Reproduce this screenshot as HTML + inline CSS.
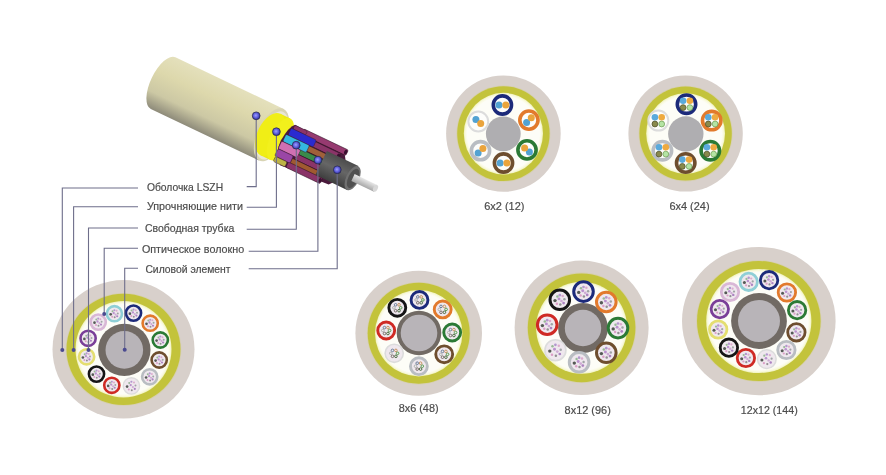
<!DOCTYPE html><html><head><meta charset="utf-8"><style>
html,body{margin:0;padding:0;background:#fff;}
body{width:886px;height:475px;overflow:hidden;position:relative;}
svg{position:absolute;left:0;top:0;filter:blur(0.35px);}
.t{font-family:"Liberation Sans",sans-serif;fill:#4c4c4c;stroke:#4c4c4c;stroke-width:0.2px;}
</style></head><body>
<svg width="886" height="475" viewBox="0 0 886 475">
<defs>
<linearGradient id="jg" x1="0" y1="0" x2="0" y2="1">
<stop offset="0" stop-color="#e4e0bc"/><stop offset="0.35" stop-color="#ddd8ac"/><stop offset="0.72" stop-color="#ccc8a4"/><stop offset="1" stop-color="#8e8b7a"/>
</linearGradient>
<linearGradient id="bg" x1="0" y1="0" x2="0" y2="1">
<stop offset="0" stop-color="#4c4c4c"/><stop offset="0.45" stop-color="#666"/><stop offset="1" stop-color="#3e3e3e"/>
</linearGradient>
<linearGradient id="rg" x1="0" y1="0" x2="0" y2="1">
<stop offset="0" stop-color="#e8e8e8"/><stop offset="1" stop-color="#a8a8a8"/>
</linearGradient>
<radialGradient id="dg" cx="0.45" cy="0.45" r="0.6">
<stop offset="0" stop-color="#a0a0ff"/><stop offset="0.55" stop-color="#5a5ad8"/><stop offset="1" stop-color="#2a2a80"/>
</radialGradient>
</defs>
<rect width="886" height="475" fill="#ffffff"/>

<ellipse cx="123.5" cy="349.3" rx="71" ry="69.2" fill="#d8d0cb"/>
<ellipse cx="123.5" cy="349.3" rx="57.8" ry="56.4" fill="#d6cfae"/>
<ellipse cx="123.5" cy="349.3" rx="57" ry="55.6" fill="#c3c33b"/>
<radialGradient id="ig123"><stop offset="0.927" stop-color="#fdfdf7"/><stop offset="0.964" stop-color="#fafae2"/><stop offset="1" stop-color="#f0f2bc"/></radialGradient>
<ellipse cx="123.5" cy="349.3" rx="48" ry="48.2" fill="url(#ig123)"/>
<circle cx="124.3" cy="349.9" r="26.2" fill="#716a64"/>
<circle cx="124.3" cy="349.9" r="18.8" fill="#b8b4b8"/>
<circle cx="133.5" cy="313.1" r="7.60" fill="#efe8ee" stroke="#1c2a7a" stroke-width="2.6"/>
<circle cx="129.9" cy="313.7" r="1.33" fill="#3a403a" opacity="0.85"/>
<circle cx="133.5" cy="309.6" r="1.07" fill="#a888c8" opacity="0.85"/>
<circle cx="135.7" cy="310.2" r="0.98" fill="#d8a0c8" opacity="0.85"/>
<circle cx="137.0" cy="312.7" r="0.98" fill="#909898" opacity="0.85"/>
<circle cx="136.4" cy="315.6" r="1.07" fill="#a070b8" opacity="0.85"/>
<circle cx="133.8" cy="316.7" r="0.98" fill="#808080" opacity="0.85"/>
<circle cx="131.3" cy="316.1" r="0.98" fill="#d890c0" opacity="0.85"/>
<circle cx="132.9" cy="312.4" r="1.16" fill="#b080c8" opacity="0.85"/>
<circle cx="134.8" cy="314.0" r="1.07" fill="#c8a0d0" opacity="0.85"/>
<circle cx="131.6" cy="310.5" r="0.98" fill="#88b088" opacity="0.85"/>
<circle cx="150.2" cy="323.2" r="7.60" fill="#efe8ee" stroke="#e27a2c" stroke-width="2.6"/>
<circle cx="146.5" cy="323.8" r="1.33" fill="#3a403a" opacity="0.85"/>
<circle cx="150.2" cy="319.7" r="1.07" fill="#a888c8" opacity="0.85"/>
<circle cx="152.4" cy="320.3" r="0.98" fill="#d8a0c8" opacity="0.85"/>
<circle cx="153.6" cy="322.8" r="0.98" fill="#909898" opacity="0.85"/>
<circle cx="153.0" cy="325.7" r="1.07" fill="#a070b8" opacity="0.85"/>
<circle cx="150.5" cy="326.8" r="0.98" fill="#808080" opacity="0.85"/>
<circle cx="148.0" cy="326.2" r="0.98" fill="#d890c0" opacity="0.85"/>
<circle cx="149.5" cy="322.5" r="1.16" fill="#b080c8" opacity="0.85"/>
<circle cx="151.4" cy="324.1" r="1.07" fill="#c8a0d0" opacity="0.85"/>
<circle cx="148.3" cy="320.6" r="0.98" fill="#88b088" opacity="0.85"/>
<circle cx="160.3" cy="340.0" r="7.60" fill="#efe8ee" stroke="#2b7a35" stroke-width="2.6"/>
<circle cx="156.6" cy="340.6" r="1.33" fill="#3a403a" opacity="0.85"/>
<circle cx="160.3" cy="336.5" r="1.07" fill="#a888c8" opacity="0.85"/>
<circle cx="162.5" cy="337.2" r="0.98" fill="#d8a0c8" opacity="0.85"/>
<circle cx="163.7" cy="339.7" r="0.98" fill="#909898" opacity="0.85"/>
<circle cx="163.1" cy="342.5" r="1.07" fill="#a070b8" opacity="0.85"/>
<circle cx="160.6" cy="343.7" r="0.98" fill="#808080" opacity="0.85"/>
<circle cx="158.1" cy="343.0" r="0.98" fill="#d890c0" opacity="0.85"/>
<circle cx="159.6" cy="339.4" r="1.16" fill="#b080c8" opacity="0.85"/>
<circle cx="161.5" cy="340.9" r="1.07" fill="#c8a0d0" opacity="0.85"/>
<circle cx="158.4" cy="337.5" r="0.98" fill="#88b088" opacity="0.85"/>
<circle cx="159.2" cy="360.0" r="7.60" fill="#efe8ee" stroke="#6e4e2e" stroke-width="2.6"/>
<circle cx="155.6" cy="360.6" r="1.33" fill="#3a403a" opacity="0.85"/>
<circle cx="159.2" cy="356.5" r="1.07" fill="#a888c8" opacity="0.85"/>
<circle cx="161.4" cy="357.2" r="0.98" fill="#d8a0c8" opacity="0.85"/>
<circle cx="162.7" cy="359.7" r="0.98" fill="#909898" opacity="0.85"/>
<circle cx="162.0" cy="362.5" r="1.07" fill="#a070b8" opacity="0.85"/>
<circle cx="159.5" cy="363.7" r="0.98" fill="#808080" opacity="0.85"/>
<circle cx="157.0" cy="363.0" r="0.98" fill="#d890c0" opacity="0.85"/>
<circle cx="158.6" cy="359.4" r="1.16" fill="#b080c8" opacity="0.85"/>
<circle cx="160.5" cy="360.9" r="1.07" fill="#c8a0d0" opacity="0.85"/>
<circle cx="157.3" cy="357.5" r="0.98" fill="#88b088" opacity="0.85"/>
<circle cx="149.7" cy="376.8" r="7.60" fill="#efe8ee" stroke="#b9bdc2" stroke-width="2.6"/>
<circle cx="146.1" cy="377.5" r="1.33" fill="#3a403a" opacity="0.85"/>
<circle cx="149.7" cy="373.4" r="1.07" fill="#a888c8" opacity="0.85"/>
<circle cx="151.9" cy="374.0" r="0.98" fill="#d8a0c8" opacity="0.85"/>
<circle cx="153.2" cy="376.5" r="0.98" fill="#909898" opacity="0.85"/>
<circle cx="152.6" cy="379.4" r="1.07" fill="#a070b8" opacity="0.85"/>
<circle cx="150.1" cy="380.5" r="0.98" fill="#808080" opacity="0.85"/>
<circle cx="147.5" cy="379.9" r="0.98" fill="#d890c0" opacity="0.85"/>
<circle cx="149.1" cy="376.2" r="1.16" fill="#b080c8" opacity="0.85"/>
<circle cx="151.0" cy="377.8" r="1.07" fill="#c8a0d0" opacity="0.85"/>
<circle cx="147.8" cy="374.3" r="0.98" fill="#88b088" opacity="0.85"/>
<circle cx="131.4" cy="385.9" r="8.19" fill="#efe8ee" stroke="#dcdcdc" stroke-width="1.4300000000000002"/>
<circle cx="127.1" cy="386.6" r="1.33" fill="#3a403a" opacity="0.85"/>
<circle cx="131.4" cy="381.8" r="1.07" fill="#a888c8" opacity="0.85"/>
<circle cx="134.0" cy="382.5" r="0.98" fill="#d8a0c8" opacity="0.85"/>
<circle cx="135.5" cy="385.5" r="0.98" fill="#909898" opacity="0.85"/>
<circle cx="134.8" cy="388.9" r="1.07" fill="#a070b8" opacity="0.85"/>
<circle cx="131.8" cy="390.2" r="0.98" fill="#808080" opacity="0.85"/>
<circle cx="128.8" cy="389.5" r="0.98" fill="#d890c0" opacity="0.85"/>
<circle cx="130.7" cy="385.1" r="1.16" fill="#b080c8" opacity="0.85"/>
<circle cx="132.9" cy="387.0" r="1.07" fill="#c8a0d0" opacity="0.85"/>
<circle cx="129.2" cy="382.9" r="0.98" fill="#88b088" opacity="0.85"/>
<circle cx="111.8" cy="385.3" r="7.60" fill="#efe8ee" stroke="#cf2a24" stroke-width="2.6"/>
<circle cx="108.2" cy="385.9" r="1.33" fill="#3a403a" opacity="0.85"/>
<circle cx="111.8" cy="381.8" r="1.07" fill="#a888c8" opacity="0.85"/>
<circle cx="114.0" cy="382.4" r="0.98" fill="#d8a0c8" opacity="0.85"/>
<circle cx="115.3" cy="384.9" r="0.98" fill="#909898" opacity="0.85"/>
<circle cx="114.7" cy="387.8" r="1.07" fill="#a070b8" opacity="0.85"/>
<circle cx="112.2" cy="388.9" r="0.98" fill="#808080" opacity="0.85"/>
<circle cx="109.6" cy="388.3" r="0.98" fill="#d890c0" opacity="0.85"/>
<circle cx="111.2" cy="384.6" r="1.16" fill="#b080c8" opacity="0.85"/>
<circle cx="113.1" cy="386.2" r="1.07" fill="#c8a0d0" opacity="0.85"/>
<circle cx="110.0" cy="382.7" r="0.98" fill="#88b088" opacity="0.85"/>
<circle cx="96.5" cy="374.1" r="7.60" fill="#efe8ee" stroke="#151515" stroke-width="2.6"/>
<circle cx="92.8" cy="374.7" r="1.33" fill="#3a403a" opacity="0.85"/>
<circle cx="96.5" cy="370.6" r="1.07" fill="#a888c8" opacity="0.85"/>
<circle cx="98.7" cy="371.3" r="0.98" fill="#d8a0c8" opacity="0.85"/>
<circle cx="99.9" cy="373.8" r="0.98" fill="#909898" opacity="0.85"/>
<circle cx="99.3" cy="376.6" r="1.07" fill="#a070b8" opacity="0.85"/>
<circle cx="96.8" cy="377.8" r="0.98" fill="#808080" opacity="0.85"/>
<circle cx="94.3" cy="377.1" r="0.98" fill="#d890c0" opacity="0.85"/>
<circle cx="95.8" cy="373.5" r="1.16" fill="#b080c8" opacity="0.85"/>
<circle cx="97.7" cy="375.1" r="1.07" fill="#c8a0d0" opacity="0.85"/>
<circle cx="94.6" cy="371.6" r="0.98" fill="#88b088" opacity="0.85"/>
<circle cx="86.6" cy="356.8" r="7.60" fill="#efe8ee" stroke="#e4de70" stroke-width="2.6"/>
<circle cx="82.9" cy="357.5" r="1.33" fill="#3a403a" opacity="0.85"/>
<circle cx="86.6" cy="353.4" r="1.07" fill="#a888c8" opacity="0.85"/>
<circle cx="88.8" cy="354.0" r="0.98" fill="#d8a0c8" opacity="0.85"/>
<circle cx="90.0" cy="356.5" r="0.98" fill="#909898" opacity="0.85"/>
<circle cx="89.4" cy="359.4" r="1.07" fill="#a070b8" opacity="0.85"/>
<circle cx="86.9" cy="360.5" r="0.98" fill="#808080" opacity="0.85"/>
<circle cx="84.4" cy="359.9" r="0.98" fill="#d890c0" opacity="0.85"/>
<circle cx="85.9" cy="356.2" r="1.16" fill="#b080c8" opacity="0.85"/>
<circle cx="87.8" cy="357.8" r="1.07" fill="#c8a0d0" opacity="0.85"/>
<circle cx="84.7" cy="354.3" r="0.98" fill="#88b088" opacity="0.85"/>
<circle cx="88.1" cy="338.3" r="7.60" fill="#efe8ee" stroke="#7a3e98" stroke-width="2.6"/>
<circle cx="84.4" cy="338.9" r="1.33" fill="#3a403a" opacity="0.85"/>
<circle cx="88.1" cy="334.9" r="1.07" fill="#a888c8" opacity="0.85"/>
<circle cx="90.3" cy="335.5" r="0.98" fill="#d8a0c8" opacity="0.85"/>
<circle cx="91.5" cy="338.0" r="0.98" fill="#909898" opacity="0.85"/>
<circle cx="90.9" cy="340.8" r="1.07" fill="#a070b8" opacity="0.85"/>
<circle cx="88.4" cy="342.0" r="0.98" fill="#808080" opacity="0.85"/>
<circle cx="85.8" cy="341.3" r="0.98" fill="#d890c0" opacity="0.85"/>
<circle cx="87.4" cy="337.7" r="1.16" fill="#b080c8" opacity="0.85"/>
<circle cx="89.3" cy="339.3" r="1.07" fill="#c8a0d0" opacity="0.85"/>
<circle cx="86.2" cy="335.8" r="0.98" fill="#88b088" opacity="0.85"/>
<circle cx="98.2" cy="322.1" r="7.60" fill="#efe8ee" stroke="#d9b7d6" stroke-width="2.6"/>
<circle cx="94.5" cy="322.7" r="1.33" fill="#3a403a" opacity="0.85"/>
<circle cx="98.2" cy="318.6" r="1.07" fill="#a888c8" opacity="0.85"/>
<circle cx="100.4" cy="319.3" r="0.98" fill="#d8a0c8" opacity="0.85"/>
<circle cx="101.6" cy="321.8" r="0.98" fill="#909898" opacity="0.85"/>
<circle cx="101.0" cy="324.6" r="1.07" fill="#a070b8" opacity="0.85"/>
<circle cx="98.5" cy="325.8" r="0.98" fill="#808080" opacity="0.85"/>
<circle cx="96.0" cy="325.1" r="0.98" fill="#d890c0" opacity="0.85"/>
<circle cx="97.5" cy="321.5" r="1.16" fill="#b080c8" opacity="0.85"/>
<circle cx="99.4" cy="323.1" r="1.07" fill="#c8a0d0" opacity="0.85"/>
<circle cx="96.3" cy="319.6" r="0.98" fill="#88b088" opacity="0.85"/>
<circle cx="114.4" cy="313.7" r="7.60" fill="#efe8ee" stroke="#8fcfd6" stroke-width="2.6"/>
<circle cx="110.7" cy="314.3" r="1.33" fill="#3a403a" opacity="0.85"/>
<circle cx="114.4" cy="310.2" r="1.07" fill="#a888c8" opacity="0.85"/>
<circle cx="116.6" cy="310.8" r="0.98" fill="#d8a0c8" opacity="0.85"/>
<circle cx="117.8" cy="313.4" r="0.98" fill="#909898" opacity="0.85"/>
<circle cx="117.2" cy="316.2" r="1.07" fill="#a070b8" opacity="0.85"/>
<circle cx="114.7" cy="317.3" r="0.98" fill="#808080" opacity="0.85"/>
<circle cx="112.2" cy="316.7" r="0.98" fill="#d890c0" opacity="0.85"/>
<circle cx="113.7" cy="313.1" r="1.16" fill="#b080c8" opacity="0.85"/>
<circle cx="115.6" cy="314.6" r="1.07" fill="#c8a0d0" opacity="0.85"/>
<circle cx="112.5" cy="311.2" r="0.98" fill="#88b088" opacity="0.85"/>
<ellipse cx="503.4" cy="133.6" rx="57.3" ry="58.2" fill="#d8d0cb"/>
<ellipse cx="503.4" cy="133.6" rx="47.0" ry="48.199999999999996" fill="#d6cfae"/>
<ellipse cx="503.4" cy="133.6" rx="46.2" ry="47.4" fill="#c3c33b"/>
<radialGradient id="ig503"><stop offset="0.912" stop-color="#fdfdf7"/><stop offset="0.956" stop-color="#fafae2"/><stop offset="1" stop-color="#f0f2bc"/></radialGradient>
<ellipse cx="503.4" cy="133.6" rx="39.6" ry="40.8" fill="url(#ig503)"/>
<circle cx="503.3" cy="133.8" r="17.4" fill="#afaeb1"/>
<circle cx="502.4" cy="105.0" r="9.10" fill="#fdfdfb" stroke="#1c2a7a" stroke-width="3.6"/>
<circle cx="499.0" cy="105.0" r="3.5" fill="#52a2d2"/>
<circle cx="505.8" cy="105.0" r="3.5" fill="#eaa43c"/>
<circle cx="528.9" cy="120.1" r="9.10" fill="#fdfdfb" stroke="#e27a2c" stroke-width="3.6"/>
<circle cx="526.6" cy="122.5" r="3.5" fill="#52a2d2"/>
<circle cx="531.3" cy="117.7" r="3.5" fill="#eaa43c"/>
<circle cx="527.0" cy="149.9" r="9.10" fill="#fdfdfb" stroke="#2b7a35" stroke-width="3.6"/>
<circle cx="529.4" cy="152.0" r="3.5" fill="#52a2d2"/>
<circle cx="524.6" cy="147.9" r="3.5" fill="#eaa43c"/>
<circle cx="503.5" cy="163.0" r="9.10" fill="#fdfdfb" stroke="#6e4e2e" stroke-width="3.6"/>
<circle cx="500.1" cy="163.0" r="3.5" fill="#52a2d2"/>
<circle cx="506.9" cy="163.0" r="3.5" fill="#eaa43c"/>
<circle cx="480.5" cy="150.7" r="9.10" fill="#fdfdfb" stroke="#b9bdc2" stroke-width="3.6"/>
<circle cx="478.1" cy="153.1" r="3.5" fill="#52a2d2"/>
<circle cx="482.9" cy="148.4" r="3.5" fill="#eaa43c"/>
<circle cx="478.3" cy="121.5" r="9.91" fill="#fdfdfb" stroke="#dcdcdc" stroke-width="1.9800000000000002"/>
<circle cx="475.9" cy="119.4" r="3.5" fill="#52a2d2"/>
<circle cx="480.7" cy="123.5" r="3.5" fill="#eaa43c"/>
<ellipse cx="685.6" cy="133.6" rx="57.2" ry="58" fill="#d8d0cb"/>
<ellipse cx="685.6" cy="133.6" rx="47.0" ry="47.8" fill="#d6cfae"/>
<ellipse cx="685.6" cy="133.6" rx="46.2" ry="47" fill="#c3c33b"/>
<radialGradient id="ig685"><stop offset="0.911" stop-color="#fdfdf7"/><stop offset="0.956" stop-color="#fafae2"/><stop offset="1" stop-color="#f0f2bc"/></radialGradient>
<ellipse cx="685.6" cy="133.6" rx="39.4" ry="40.3" fill="url(#ig685)"/>
<circle cx="685.8" cy="134" r="17.7" fill="#afaeb1"/>
<circle cx="686.5" cy="104.2" r="9.20" fill="#fdfdfb" stroke="#1c2a7a" stroke-width="3.6"/>
<circle cx="683.1" cy="100.8" r="3.3" fill="#5aaadc"/>
<circle cx="689.9" cy="100.8" r="3.3" fill="#eeaa40"/>
<circle cx="683.1" cy="107.6" r="2.9" fill="#8a8a4c" stroke="#55552e" stroke-width="0.8"/>
<circle cx="689.9" cy="107.6" r="2.9" fill="#b4e4a4" stroke="#6a9a50" stroke-width="0.7"/>
<circle cx="711.7" cy="120.6" r="9.20" fill="#fdfdfb" stroke="#e27a2c" stroke-width="3.6"/>
<circle cx="708.3" cy="117.2" r="3.3" fill="#5aaadc"/>
<circle cx="715.1" cy="117.2" r="3.3" fill="#eeaa40"/>
<circle cx="708.3" cy="124.0" r="2.9" fill="#8a8a4c" stroke="#55552e" stroke-width="0.8"/>
<circle cx="715.1" cy="124.0" r="2.9" fill="#b4e4a4" stroke="#6a9a50" stroke-width="0.7"/>
<circle cx="710.3" cy="150.7" r="9.20" fill="#fdfdfb" stroke="#2b7a35" stroke-width="3.6"/>
<circle cx="706.9" cy="147.3" r="3.3" fill="#5aaadc"/>
<circle cx="713.7" cy="147.3" r="3.3" fill="#eeaa40"/>
<circle cx="706.9" cy="154.1" r="2.9" fill="#8a8a4c" stroke="#55552e" stroke-width="0.8"/>
<circle cx="713.7" cy="154.1" r="2.9" fill="#b4e4a4" stroke="#6a9a50" stroke-width="0.7"/>
<circle cx="685.7" cy="163.0" r="9.20" fill="#fdfdfb" stroke="#6e4e2e" stroke-width="3.6"/>
<circle cx="682.3" cy="159.6" r="3.3" fill="#5aaadc"/>
<circle cx="689.1" cy="159.6" r="3.3" fill="#eeaa40"/>
<circle cx="682.3" cy="166.4" r="2.9" fill="#8a8a4c" stroke="#55552e" stroke-width="0.8"/>
<circle cx="689.1" cy="166.4" r="2.9" fill="#b4e4a4" stroke="#6a9a50" stroke-width="0.7"/>
<circle cx="662.4" cy="150.7" r="9.20" fill="#fdfdfb" stroke="#b9bdc2" stroke-width="3.6"/>
<circle cx="659.0" cy="147.3" r="3.3" fill="#5aaadc"/>
<circle cx="665.8" cy="147.3" r="3.3" fill="#eeaa40"/>
<circle cx="659.0" cy="154.1" r="2.9" fill="#8a8a4c" stroke="#55552e" stroke-width="0.8"/>
<circle cx="665.8" cy="154.1" r="2.9" fill="#b4e4a4" stroke="#6a9a50" stroke-width="0.7"/>
<circle cx="658.3" cy="120.6" r="10.01" fill="#fdfdfb" stroke="#dcdcdc" stroke-width="1.9800000000000002"/>
<circle cx="654.9" cy="117.2" r="3.3" fill="#5aaadc"/>
<circle cx="661.7" cy="117.2" r="3.3" fill="#eeaa40"/>
<circle cx="654.9" cy="124.0" r="2.9" fill="#8a8a4c" stroke="#55552e" stroke-width="0.8"/>
<circle cx="661.7" cy="124.0" r="2.9" fill="#b4e4a4" stroke="#6a9a50" stroke-width="0.7"/>
<ellipse cx="418.7" cy="333.2" rx="63.3" ry="62.5" fill="#d8d0cb"/>
<ellipse cx="418.7" cy="333.2" rx="51.8" ry="51.3" fill="#d6cfae"/>
<ellipse cx="418.7" cy="333.2" rx="51" ry="50.5" fill="#c3c33b"/>
<radialGradient id="ig418"><stop offset="0.920" stop-color="#fdfdf7"/><stop offset="0.960" stop-color="#fafae2"/><stop offset="1" stop-color="#f0f2bc"/></radialGradient>
<ellipse cx="418.7" cy="333.2" rx="43.7" ry="43.2" fill="url(#ig418)"/>
<circle cx="419" cy="333" r="22.3" fill="#716a64"/>
<circle cx="419" cy="333" r="18.3" fill="#b8b4b8"/>
<circle cx="419.5" cy="299.9" r="8.45" fill="#efe8ee" stroke="#1c2a7a" stroke-width="2.9"/>
<circle cx="417.8" cy="296.9" r="1.3" fill="#eeeeee" stroke="#6a7a9a" stroke-width="1"/>
<circle cx="421.2" cy="296.9" r="1.3" fill="#eeeeee" stroke="#c89060" stroke-width="1"/>
<circle cx="422.9" cy="299.9" r="1.3" fill="#eeeeee" stroke="#5a9a50" stroke-width="1"/>
<circle cx="421.2" cy="302.8" r="1.3" fill="#eeeeee" stroke="#4a6a40" stroke-width="1"/>
<circle cx="417.8" cy="302.8" r="1.3" fill="#eeeeee" stroke="#7a6a6a" stroke-width="1"/>
<circle cx="416.1" cy="299.9" r="1.3" fill="#eeeeee" stroke="#b0b0b0" stroke-width="1"/>
<circle cx="442.7" cy="309.4" r="8.45" fill="#efe8ee" stroke="#e27a2c" stroke-width="2.9"/>
<circle cx="441.0" cy="306.4" r="1.3" fill="#eeeeee" stroke="#6a7a9a" stroke-width="1"/>
<circle cx="444.4" cy="306.4" r="1.3" fill="#eeeeee" stroke="#c89060" stroke-width="1"/>
<circle cx="446.1" cy="309.4" r="1.3" fill="#eeeeee" stroke="#5a9a50" stroke-width="1"/>
<circle cx="444.4" cy="312.3" r="1.3" fill="#eeeeee" stroke="#4a6a40" stroke-width="1"/>
<circle cx="441.0" cy="312.3" r="1.3" fill="#eeeeee" stroke="#7a6a6a" stroke-width="1"/>
<circle cx="439.3" cy="309.4" r="1.3" fill="#eeeeee" stroke="#b0b0b0" stroke-width="1"/>
<circle cx="452.2" cy="332.5" r="8.45" fill="#efe8ee" stroke="#2b7a35" stroke-width="2.9"/>
<circle cx="450.5" cy="329.6" r="1.3" fill="#eeeeee" stroke="#6a7a9a" stroke-width="1"/>
<circle cx="453.9" cy="329.6" r="1.3" fill="#eeeeee" stroke="#c89060" stroke-width="1"/>
<circle cx="455.6" cy="332.5" r="1.3" fill="#eeeeee" stroke="#5a9a50" stroke-width="1"/>
<circle cx="453.9" cy="335.5" r="1.3" fill="#eeeeee" stroke="#4a6a40" stroke-width="1"/>
<circle cx="450.5" cy="335.5" r="1.3" fill="#eeeeee" stroke="#7a6a6a" stroke-width="1"/>
<circle cx="448.8" cy="332.5" r="1.3" fill="#eeeeee" stroke="#b0b0b0" stroke-width="1"/>
<circle cx="444.2" cy="354.3" r="8.45" fill="#efe8ee" stroke="#6e4e2e" stroke-width="2.9"/>
<circle cx="442.5" cy="351.4" r="1.3" fill="#eeeeee" stroke="#6a7a9a" stroke-width="1"/>
<circle cx="445.9" cy="351.4" r="1.3" fill="#eeeeee" stroke="#c89060" stroke-width="1"/>
<circle cx="447.6" cy="354.3" r="1.3" fill="#eeeeee" stroke="#5a9a50" stroke-width="1"/>
<circle cx="445.9" cy="357.2" r="1.3" fill="#eeeeee" stroke="#4a6a40" stroke-width="1"/>
<circle cx="442.5" cy="357.2" r="1.3" fill="#eeeeee" stroke="#7a6a6a" stroke-width="1"/>
<circle cx="440.8" cy="354.3" r="1.3" fill="#eeeeee" stroke="#b0b0b0" stroke-width="1"/>
<circle cx="418.9" cy="366.2" r="8.45" fill="#efe8ee" stroke="#b9bdc2" stroke-width="2.9"/>
<circle cx="417.2" cy="363.2" r="1.3" fill="#eeeeee" stroke="#6a7a9a" stroke-width="1"/>
<circle cx="420.6" cy="363.2" r="1.3" fill="#eeeeee" stroke="#c89060" stroke-width="1"/>
<circle cx="422.3" cy="366.2" r="1.3" fill="#eeeeee" stroke="#5a9a50" stroke-width="1"/>
<circle cx="420.6" cy="369.1" r="1.3" fill="#eeeeee" stroke="#4a6a40" stroke-width="1"/>
<circle cx="417.2" cy="369.1" r="1.3" fill="#eeeeee" stroke="#7a6a6a" stroke-width="1"/>
<circle cx="415.5" cy="366.2" r="1.3" fill="#eeeeee" stroke="#b0b0b0" stroke-width="1"/>
<circle cx="394.2" cy="353.3" r="9.10" fill="#efe8ee" stroke="#dcdcdc" stroke-width="1.595"/>
<circle cx="392.5" cy="350.4" r="1.3" fill="#eeeeee" stroke="#6a7a9a" stroke-width="1"/>
<circle cx="395.9" cy="350.4" r="1.3" fill="#eeeeee" stroke="#c89060" stroke-width="1"/>
<circle cx="397.6" cy="353.3" r="1.3" fill="#eeeeee" stroke="#5a9a50" stroke-width="1"/>
<circle cx="395.9" cy="356.3" r="1.3" fill="#eeeeee" stroke="#4a6a40" stroke-width="1"/>
<circle cx="392.5" cy="356.3" r="1.3" fill="#eeeeee" stroke="#7a6a6a" stroke-width="1"/>
<circle cx="390.8" cy="353.3" r="1.3" fill="#eeeeee" stroke="#b0b0b0" stroke-width="1"/>
<circle cx="386.2" cy="330.5" r="8.45" fill="#efe8ee" stroke="#cf2a24" stroke-width="2.9"/>
<circle cx="384.5" cy="327.6" r="1.3" fill="#eeeeee" stroke="#6a7a9a" stroke-width="1"/>
<circle cx="387.9" cy="327.6" r="1.3" fill="#eeeeee" stroke="#c89060" stroke-width="1"/>
<circle cx="389.6" cy="330.5" r="1.3" fill="#eeeeee" stroke="#5a9a50" stroke-width="1"/>
<circle cx="387.9" cy="333.5" r="1.3" fill="#eeeeee" stroke="#4a6a40" stroke-width="1"/>
<circle cx="384.5" cy="333.5" r="1.3" fill="#eeeeee" stroke="#7a6a6a" stroke-width="1"/>
<circle cx="382.8" cy="330.5" r="1.3" fill="#eeeeee" stroke="#b0b0b0" stroke-width="1"/>
<circle cx="397.3" cy="307.8" r="8.45" fill="#efe8ee" stroke="#151515" stroke-width="2.9"/>
<circle cx="395.6" cy="304.8" r="1.3" fill="#eeeeee" stroke="#6a7a9a" stroke-width="1"/>
<circle cx="399.0" cy="304.8" r="1.3" fill="#eeeeee" stroke="#c89060" stroke-width="1"/>
<circle cx="400.7" cy="307.8" r="1.3" fill="#eeeeee" stroke="#5a9a50" stroke-width="1"/>
<circle cx="399.0" cy="310.7" r="1.3" fill="#eeeeee" stroke="#4a6a40" stroke-width="1"/>
<circle cx="395.6" cy="310.7" r="1.3" fill="#eeeeee" stroke="#7a6a6a" stroke-width="1"/>
<circle cx="393.9" cy="307.8" r="1.3" fill="#eeeeee" stroke="#b0b0b0" stroke-width="1"/>
<ellipse cx="581.6" cy="327.8" rx="67" ry="67.2" fill="#d8d0cb"/>
<ellipse cx="581.6" cy="327.8" rx="54.599999999999994" ry="55.199999999999996" fill="#d6cfae"/>
<ellipse cx="581.6" cy="327.8" rx="53.8" ry="54.4" fill="#c3c33b"/>
<radialGradient id="ig581"><stop offset="0.923" stop-color="#fdfdf7"/><stop offset="0.962" stop-color="#fafae2"/><stop offset="1" stop-color="#f0f2bc"/></radialGradient>
<ellipse cx="581.6" cy="327.8" rx="45.5" ry="46" fill="url(#ig581)"/>
<circle cx="583" cy="328" r="24.9" fill="#716a64"/>
<circle cx="583" cy="328" r="18.2" fill="#b8b4b8"/>
<circle cx="583.5" cy="291.6" r="9.80" fill="#efe8ee" stroke="#1c2a7a" stroke-width="3.0"/>
<circle cx="578.7" cy="292.4" r="1.70" fill="#3a403a" opacity="0.85"/>
<circle cx="583.5" cy="287.0" r="1.36" fill="#a888c8" opacity="0.85"/>
<circle cx="586.4" cy="287.8" r="1.24" fill="#d8a0c8" opacity="0.85"/>
<circle cx="588.1" cy="291.2" r="1.24" fill="#909898" opacity="0.85"/>
<circle cx="587.2" cy="294.9" r="1.36" fill="#a070b8" opacity="0.85"/>
<circle cx="583.9" cy="296.4" r="1.24" fill="#808080" opacity="0.85"/>
<circle cx="580.6" cy="295.6" r="1.24" fill="#d890c0" opacity="0.85"/>
<circle cx="582.7" cy="290.7" r="1.47" fill="#b080c8" opacity="0.85"/>
<circle cx="585.2" cy="292.8" r="1.36" fill="#c8a0d0" opacity="0.85"/>
<circle cx="581.0" cy="288.3" r="1.24" fill="#88b088" opacity="0.85"/>
<circle cx="606.3" cy="302.0" r="9.80" fill="#efe8ee" stroke="#e27a2c" stroke-width="3.0"/>
<circle cx="601.4" cy="302.8" r="1.70" fill="#3a403a" opacity="0.85"/>
<circle cx="606.3" cy="297.4" r="1.36" fill="#a888c8" opacity="0.85"/>
<circle cx="609.2" cy="298.2" r="1.24" fill="#d8a0c8" opacity="0.85"/>
<circle cx="610.8" cy="301.6" r="1.24" fill="#909898" opacity="0.85"/>
<circle cx="610.0" cy="305.3" r="1.36" fill="#a070b8" opacity="0.85"/>
<circle cx="606.7" cy="306.8" r="1.24" fill="#808080" opacity="0.85"/>
<circle cx="603.4" cy="306.0" r="1.24" fill="#d890c0" opacity="0.85"/>
<circle cx="605.4" cy="301.1" r="1.47" fill="#b080c8" opacity="0.85"/>
<circle cx="607.9" cy="303.2" r="1.36" fill="#c8a0d0" opacity="0.85"/>
<circle cx="603.8" cy="298.6" r="1.24" fill="#88b088" opacity="0.85"/>
<circle cx="618.0" cy="328.1" r="9.80" fill="#efe8ee" stroke="#2b7a35" stroke-width="3.0"/>
<circle cx="613.2" cy="328.9" r="1.70" fill="#3a403a" opacity="0.85"/>
<circle cx="618.0" cy="323.5" r="1.36" fill="#a888c8" opacity="0.85"/>
<circle cx="620.9" cy="324.3" r="1.24" fill="#d8a0c8" opacity="0.85"/>
<circle cx="622.5" cy="327.6" r="1.24" fill="#909898" opacity="0.85"/>
<circle cx="621.7" cy="331.4" r="1.36" fill="#a070b8" opacity="0.85"/>
<circle cx="618.4" cy="332.9" r="1.24" fill="#808080" opacity="0.85"/>
<circle cx="615.1" cy="332.0" r="1.24" fill="#d890c0" opacity="0.85"/>
<circle cx="617.1" cy="327.2" r="1.47" fill="#b080c8" opacity="0.85"/>
<circle cx="619.6" cy="329.3" r="1.36" fill="#c8a0d0" opacity="0.85"/>
<circle cx="615.5" cy="324.7" r="1.24" fill="#88b088" opacity="0.85"/>
<circle cx="606.3" cy="352.8" r="9.80" fill="#efe8ee" stroke="#6e4e2e" stroke-width="3.0"/>
<circle cx="601.4" cy="353.6" r="1.70" fill="#3a403a" opacity="0.85"/>
<circle cx="606.3" cy="348.2" r="1.36" fill="#a888c8" opacity="0.85"/>
<circle cx="609.2" cy="349.1" r="1.24" fill="#d8a0c8" opacity="0.85"/>
<circle cx="610.8" cy="352.4" r="1.24" fill="#909898" opacity="0.85"/>
<circle cx="610.0" cy="356.1" r="1.36" fill="#a070b8" opacity="0.85"/>
<circle cx="606.7" cy="357.6" r="1.24" fill="#808080" opacity="0.85"/>
<circle cx="603.4" cy="356.8" r="1.24" fill="#d890c0" opacity="0.85"/>
<circle cx="605.4" cy="352.0" r="1.47" fill="#b080c8" opacity="0.85"/>
<circle cx="607.9" cy="354.1" r="1.36" fill="#c8a0d0" opacity="0.85"/>
<circle cx="603.8" cy="349.5" r="1.24" fill="#88b088" opacity="0.85"/>
<circle cx="579.1" cy="362.3" r="9.80" fill="#efe8ee" stroke="#b9bdc2" stroke-width="3.0"/>
<circle cx="574.3" cy="363.1" r="1.70" fill="#3a403a" opacity="0.85"/>
<circle cx="579.1" cy="357.7" r="1.36" fill="#a888c8" opacity="0.85"/>
<circle cx="582.0" cy="358.6" r="1.24" fill="#d8a0c8" opacity="0.85"/>
<circle cx="583.6" cy="361.9" r="1.24" fill="#909898" opacity="0.85"/>
<circle cx="582.8" cy="365.6" r="1.36" fill="#a070b8" opacity="0.85"/>
<circle cx="579.5" cy="367.1" r="1.24" fill="#808080" opacity="0.85"/>
<circle cx="576.2" cy="366.3" r="1.24" fill="#d890c0" opacity="0.85"/>
<circle cx="578.2" cy="361.5" r="1.47" fill="#b080c8" opacity="0.85"/>
<circle cx="580.7" cy="363.6" r="1.36" fill="#c8a0d0" opacity="0.85"/>
<circle cx="576.6" cy="359.0" r="1.24" fill="#88b088" opacity="0.85"/>
<circle cx="555.4" cy="350.2" r="10.48" fill="#efe8ee" stroke="#dcdcdc" stroke-width="1.6500000000000001"/>
<circle cx="549.8" cy="351.1" r="1.70" fill="#3a403a" opacity="0.85"/>
<circle cx="555.4" cy="344.8" r="1.36" fill="#a888c8" opacity="0.85"/>
<circle cx="558.8" cy="345.8" r="1.24" fill="#d8a0c8" opacity="0.85"/>
<circle cx="560.7" cy="349.7" r="1.24" fill="#909898" opacity="0.85"/>
<circle cx="559.8" cy="354.0" r="1.36" fill="#a070b8" opacity="0.85"/>
<circle cx="555.9" cy="355.8" r="1.24" fill="#808080" opacity="0.85"/>
<circle cx="552.0" cy="354.8" r="1.24" fill="#d890c0" opacity="0.85"/>
<circle cx="554.5" cy="349.2" r="1.47" fill="#b080c8" opacity="0.85"/>
<circle cx="557.3" cy="351.6" r="1.36" fill="#c8a0d0" opacity="0.85"/>
<circle cx="552.5" cy="346.3" r="1.24" fill="#88b088" opacity="0.85"/>
<circle cx="547.2" cy="324.7" r="9.80" fill="#efe8ee" stroke="#cf2a24" stroke-width="3.0"/>
<circle cx="542.4" cy="325.6" r="1.70" fill="#3a403a" opacity="0.85"/>
<circle cx="547.2" cy="320.2" r="1.36" fill="#a888c8" opacity="0.85"/>
<circle cx="550.1" cy="321.0" r="1.24" fill="#d8a0c8" opacity="0.85"/>
<circle cx="551.8" cy="324.3" r="1.24" fill="#909898" opacity="0.85"/>
<circle cx="551.0" cy="328.1" r="1.36" fill="#a070b8" opacity="0.85"/>
<circle cx="547.7" cy="329.5" r="1.24" fill="#808080" opacity="0.85"/>
<circle cx="544.3" cy="328.7" r="1.24" fill="#d890c0" opacity="0.85"/>
<circle cx="546.4" cy="323.9" r="1.47" fill="#b080c8" opacity="0.85"/>
<circle cx="548.9" cy="326.0" r="1.36" fill="#c8a0d0" opacity="0.85"/>
<circle cx="544.8" cy="321.4" r="1.24" fill="#88b088" opacity="0.85"/>
<circle cx="559.8" cy="299.8" r="9.80" fill="#efe8ee" stroke="#151515" stroke-width="3.0"/>
<circle cx="555.0" cy="300.6" r="1.70" fill="#3a403a" opacity="0.85"/>
<circle cx="559.8" cy="295.2" r="1.36" fill="#a888c8" opacity="0.85"/>
<circle cx="562.7" cy="296.0" r="1.24" fill="#d8a0c8" opacity="0.85"/>
<circle cx="564.4" cy="299.3" r="1.24" fill="#909898" opacity="0.85"/>
<circle cx="563.6" cy="303.1" r="1.36" fill="#a070b8" opacity="0.85"/>
<circle cx="560.3" cy="304.6" r="1.24" fill="#808080" opacity="0.85"/>
<circle cx="556.9" cy="303.7" r="1.24" fill="#d890c0" opacity="0.85"/>
<circle cx="559.0" cy="298.9" r="1.47" fill="#b080c8" opacity="0.85"/>
<circle cx="561.5" cy="301.0" r="1.36" fill="#c8a0d0" opacity="0.85"/>
<circle cx="557.4" cy="296.4" r="1.24" fill="#88b088" opacity="0.85"/>
<ellipse cx="758.8" cy="321.1" rx="76.8" ry="74.2" fill="#d8d0cb"/>
<ellipse cx="758.8" cy="321.1" rx="62.599999999999994" ry="60.8" fill="#d6cfae"/>
<ellipse cx="758.8" cy="321.1" rx="61.8" ry="60" fill="#c3c33b"/>
<radialGradient id="ig758"><stop offset="0.933" stop-color="#fdfdf7"/><stop offset="0.967" stop-color="#fafae2"/><stop offset="1" stop-color="#f0f2bc"/></radialGradient>
<ellipse cx="758.8" cy="321.1" rx="52.6" ry="52" fill="url(#ig758)"/>
<circle cx="759" cy="321" r="27.9" fill="#716a64"/>
<circle cx="759" cy="321" r="21" fill="#b8b4b8"/>
<circle cx="769.1" cy="280.2" r="8.70" fill="#efe8ee" stroke="#1c2a7a" stroke-width="2.8"/>
<circle cx="764.9" cy="280.9" r="1.52" fill="#3a403a" opacity="0.85"/>
<circle cx="769.1" cy="276.2" r="1.21" fill="#a888c8" opacity="0.85"/>
<circle cx="771.7" cy="276.9" r="1.11" fill="#d8a0c8" opacity="0.85"/>
<circle cx="773.1" cy="279.8" r="1.11" fill="#909898" opacity="0.85"/>
<circle cx="772.4" cy="283.1" r="1.21" fill="#a070b8" opacity="0.85"/>
<circle cx="769.5" cy="284.4" r="1.11" fill="#808080" opacity="0.85"/>
<circle cx="766.6" cy="283.7" r="1.11" fill="#d890c0" opacity="0.85"/>
<circle cx="768.4" cy="279.5" r="1.31" fill="#b080c8" opacity="0.85"/>
<circle cx="770.6" cy="281.3" r="1.21" fill="#c8a0d0" opacity="0.85"/>
<circle cx="766.9" cy="277.3" r="1.11" fill="#88b088" opacity="0.85"/>
<circle cx="786.9" cy="292.5" r="8.70" fill="#efe8ee" stroke="#e27a2c" stroke-width="2.8"/>
<circle cx="782.6" cy="293.2" r="1.52" fill="#3a403a" opacity="0.85"/>
<circle cx="786.9" cy="288.5" r="1.21" fill="#a888c8" opacity="0.85"/>
<circle cx="789.4" cy="289.2" r="1.11" fill="#d8a0c8" opacity="0.85"/>
<circle cx="790.9" cy="292.1" r="1.11" fill="#909898" opacity="0.85"/>
<circle cx="790.1" cy="295.4" r="1.21" fill="#a070b8" opacity="0.85"/>
<circle cx="787.2" cy="296.7" r="1.11" fill="#808080" opacity="0.85"/>
<circle cx="784.3" cy="296.0" r="1.11" fill="#d890c0" opacity="0.85"/>
<circle cx="786.1" cy="291.7" r="1.31" fill="#b080c8" opacity="0.85"/>
<circle cx="788.3" cy="293.6" r="1.21" fill="#c8a0d0" opacity="0.85"/>
<circle cx="784.7" cy="289.5" r="1.11" fill="#88b088" opacity="0.85"/>
<circle cx="797.1" cy="310.2" r="8.70" fill="#efe8ee" stroke="#2b7a35" stroke-width="2.8"/>
<circle cx="792.9" cy="310.9" r="1.52" fill="#3a403a" opacity="0.85"/>
<circle cx="797.1" cy="306.2" r="1.21" fill="#a888c8" opacity="0.85"/>
<circle cx="799.6" cy="306.9" r="1.11" fill="#d8a0c8" opacity="0.85"/>
<circle cx="801.1" cy="309.8" r="1.11" fill="#909898" opacity="0.85"/>
<circle cx="800.4" cy="313.1" r="1.21" fill="#a070b8" opacity="0.85"/>
<circle cx="797.5" cy="314.4" r="1.11" fill="#808080" opacity="0.85"/>
<circle cx="794.5" cy="313.7" r="1.11" fill="#d890c0" opacity="0.85"/>
<circle cx="796.4" cy="309.5" r="1.31" fill="#b080c8" opacity="0.85"/>
<circle cx="798.5" cy="311.3" r="1.21" fill="#c8a0d0" opacity="0.85"/>
<circle cx="794.9" cy="307.3" r="1.11" fill="#88b088" opacity="0.85"/>
<circle cx="796.4" cy="332.3" r="8.70" fill="#efe8ee" stroke="#6e4e2e" stroke-width="2.8"/>
<circle cx="792.2" cy="333.0" r="1.52" fill="#3a403a" opacity="0.85"/>
<circle cx="796.4" cy="328.2" r="1.21" fill="#a888c8" opacity="0.85"/>
<circle cx="799.0" cy="329.0" r="1.11" fill="#d8a0c8" opacity="0.85"/>
<circle cx="800.4" cy="331.9" r="1.11" fill="#909898" opacity="0.85"/>
<circle cx="799.7" cy="335.2" r="1.21" fill="#a070b8" opacity="0.85"/>
<circle cx="796.8" cy="336.5" r="1.11" fill="#808080" opacity="0.85"/>
<circle cx="793.9" cy="335.8" r="1.11" fill="#d890c0" opacity="0.85"/>
<circle cx="795.7" cy="331.5" r="1.31" fill="#b080c8" opacity="0.85"/>
<circle cx="797.9" cy="333.4" r="1.21" fill="#c8a0d0" opacity="0.85"/>
<circle cx="794.2" cy="329.3" r="1.11" fill="#88b088" opacity="0.85"/>
<circle cx="786.4" cy="350.0" r="8.70" fill="#efe8ee" stroke="#b9bdc2" stroke-width="2.8"/>
<circle cx="782.2" cy="350.7" r="1.52" fill="#3a403a" opacity="0.85"/>
<circle cx="786.4" cy="346.0" r="1.21" fill="#a888c8" opacity="0.85"/>
<circle cx="789.0" cy="346.7" r="1.11" fill="#d8a0c8" opacity="0.85"/>
<circle cx="790.4" cy="349.6" r="1.11" fill="#909898" opacity="0.85"/>
<circle cx="789.7" cy="352.9" r="1.21" fill="#a070b8" opacity="0.85"/>
<circle cx="786.8" cy="354.2" r="1.11" fill="#808080" opacity="0.85"/>
<circle cx="783.8" cy="353.5" r="1.11" fill="#d890c0" opacity="0.85"/>
<circle cx="785.7" cy="349.3" r="1.31" fill="#b080c8" opacity="0.85"/>
<circle cx="787.9" cy="351.1" r="1.21" fill="#c8a0d0" opacity="0.85"/>
<circle cx="784.2" cy="347.1" r="1.11" fill="#88b088" opacity="0.85"/>
<circle cx="766.8" cy="359.1" r="9.33" fill="#efe8ee" stroke="#dcdcdc" stroke-width="1.54"/>
<circle cx="761.9" cy="359.9" r="1.52" fill="#3a403a" opacity="0.85"/>
<circle cx="766.8" cy="354.4" r="1.21" fill="#a888c8" opacity="0.85"/>
<circle cx="769.8" cy="355.2" r="1.11" fill="#d8a0c8" opacity="0.85"/>
<circle cx="771.6" cy="358.7" r="1.11" fill="#909898" opacity="0.85"/>
<circle cx="770.7" cy="362.5" r="1.21" fill="#a070b8" opacity="0.85"/>
<circle cx="767.3" cy="364.1" r="1.11" fill="#808080" opacity="0.85"/>
<circle cx="763.9" cy="363.2" r="1.11" fill="#d890c0" opacity="0.85"/>
<circle cx="766.0" cy="358.2" r="1.31" fill="#b080c8" opacity="0.85"/>
<circle cx="768.6" cy="360.4" r="1.21" fill="#c8a0d0" opacity="0.85"/>
<circle cx="764.3" cy="355.7" r="1.11" fill="#88b088" opacity="0.85"/>
<circle cx="745.9" cy="358.0" r="8.70" fill="#efe8ee" stroke="#cf2a24" stroke-width="2.8"/>
<circle cx="741.7" cy="358.7" r="1.52" fill="#3a403a" opacity="0.85"/>
<circle cx="745.9" cy="353.9" r="1.21" fill="#a888c8" opacity="0.85"/>
<circle cx="748.5" cy="354.7" r="1.11" fill="#d8a0c8" opacity="0.85"/>
<circle cx="749.9" cy="357.6" r="1.11" fill="#909898" opacity="0.85"/>
<circle cx="749.2" cy="360.9" r="1.21" fill="#a070b8" opacity="0.85"/>
<circle cx="746.3" cy="362.2" r="1.11" fill="#808080" opacity="0.85"/>
<circle cx="743.4" cy="361.5" r="1.11" fill="#d890c0" opacity="0.85"/>
<circle cx="745.2" cy="357.2" r="1.31" fill="#b080c8" opacity="0.85"/>
<circle cx="747.4" cy="359.0" r="1.21" fill="#c8a0d0" opacity="0.85"/>
<circle cx="743.7" cy="355.0" r="1.11" fill="#88b088" opacity="0.85"/>
<circle cx="728.9" cy="347.7" r="8.70" fill="#efe8ee" stroke="#151515" stroke-width="2.8"/>
<circle cx="724.6" cy="348.4" r="1.52" fill="#3a403a" opacity="0.85"/>
<circle cx="728.9" cy="343.7" r="1.21" fill="#a888c8" opacity="0.85"/>
<circle cx="731.4" cy="344.4" r="1.11" fill="#d8a0c8" opacity="0.85"/>
<circle cx="732.9" cy="347.4" r="1.11" fill="#909898" opacity="0.85"/>
<circle cx="732.2" cy="350.6" r="1.21" fill="#a070b8" opacity="0.85"/>
<circle cx="729.2" cy="352.0" r="1.11" fill="#808080" opacity="0.85"/>
<circle cx="726.3" cy="351.2" r="1.11" fill="#d890c0" opacity="0.85"/>
<circle cx="728.1" cy="347.0" r="1.31" fill="#b080c8" opacity="0.85"/>
<circle cx="730.3" cy="348.8" r="1.21" fill="#c8a0d0" opacity="0.85"/>
<circle cx="726.7" cy="344.8" r="1.11" fill="#88b088" opacity="0.85"/>
<circle cx="718.2" cy="329.5" r="8.70" fill="#efe8ee" stroke="#e4de70" stroke-width="2.8"/>
<circle cx="714.0" cy="330.3" r="1.52" fill="#3a403a" opacity="0.85"/>
<circle cx="718.2" cy="325.5" r="1.21" fill="#a888c8" opacity="0.85"/>
<circle cx="720.7" cy="326.2" r="1.11" fill="#d8a0c8" opacity="0.85"/>
<circle cx="722.2" cy="329.2" r="1.11" fill="#909898" opacity="0.85"/>
<circle cx="721.5" cy="332.4" r="1.21" fill="#a070b8" opacity="0.85"/>
<circle cx="718.6" cy="333.8" r="1.11" fill="#808080" opacity="0.85"/>
<circle cx="715.6" cy="333.0" r="1.11" fill="#d890c0" opacity="0.85"/>
<circle cx="717.5" cy="328.8" r="1.31" fill="#b080c8" opacity="0.85"/>
<circle cx="719.6" cy="330.6" r="1.21" fill="#c8a0d0" opacity="0.85"/>
<circle cx="716.0" cy="326.6" r="1.11" fill="#88b088" opacity="0.85"/>
<circle cx="719.8" cy="309.1" r="8.70" fill="#efe8ee" stroke="#7a3e98" stroke-width="2.8"/>
<circle cx="715.5" cy="309.8" r="1.52" fill="#3a403a" opacity="0.85"/>
<circle cx="719.8" cy="305.0" r="1.21" fill="#a888c8" opacity="0.85"/>
<circle cx="722.3" cy="305.8" r="1.11" fill="#d8a0c8" opacity="0.85"/>
<circle cx="723.8" cy="308.7" r="1.11" fill="#909898" opacity="0.85"/>
<circle cx="723.1" cy="312.0" r="1.21" fill="#a070b8" opacity="0.85"/>
<circle cx="720.1" cy="313.3" r="1.11" fill="#808080" opacity="0.85"/>
<circle cx="717.2" cy="312.6" r="1.11" fill="#d890c0" opacity="0.85"/>
<circle cx="719.0" cy="308.3" r="1.31" fill="#b080c8" opacity="0.85"/>
<circle cx="721.2" cy="310.2" r="1.21" fill="#c8a0d0" opacity="0.85"/>
<circle cx="717.6" cy="306.1" r="1.11" fill="#88b088" opacity="0.85"/>
<circle cx="730.0" cy="292.0" r="8.70" fill="#efe8ee" stroke="#d9b7d6" stroke-width="2.8"/>
<circle cx="725.8" cy="292.7" r="1.52" fill="#3a403a" opacity="0.85"/>
<circle cx="730.0" cy="288.0" r="1.21" fill="#a888c8" opacity="0.85"/>
<circle cx="732.6" cy="288.7" r="1.11" fill="#d8a0c8" opacity="0.85"/>
<circle cx="734.0" cy="291.6" r="1.11" fill="#909898" opacity="0.85"/>
<circle cx="733.3" cy="294.9" r="1.21" fill="#a070b8" opacity="0.85"/>
<circle cx="730.4" cy="296.2" r="1.11" fill="#808080" opacity="0.85"/>
<circle cx="727.5" cy="295.5" r="1.11" fill="#d890c0" opacity="0.85"/>
<circle cx="729.3" cy="291.3" r="1.31" fill="#b080c8" opacity="0.85"/>
<circle cx="731.5" cy="293.1" r="1.21" fill="#c8a0d0" opacity="0.85"/>
<circle cx="727.8" cy="289.1" r="1.11" fill="#88b088" opacity="0.85"/>
<circle cx="748.7" cy="281.8" r="8.70" fill="#efe8ee" stroke="#8fcfd6" stroke-width="2.8"/>
<circle cx="744.4" cy="282.5" r="1.52" fill="#3a403a" opacity="0.85"/>
<circle cx="748.7" cy="277.8" r="1.21" fill="#a888c8" opacity="0.85"/>
<circle cx="751.2" cy="278.5" r="1.11" fill="#d8a0c8" opacity="0.85"/>
<circle cx="752.7" cy="281.4" r="1.11" fill="#909898" opacity="0.85"/>
<circle cx="751.9" cy="284.7" r="1.21" fill="#a070b8" opacity="0.85"/>
<circle cx="749.0" cy="286.0" r="1.11" fill="#808080" opacity="0.85"/>
<circle cx="746.1" cy="285.3" r="1.11" fill="#d890c0" opacity="0.85"/>
<circle cx="747.9" cy="281.0" r="1.31" fill="#b080c8" opacity="0.85"/>
<circle cx="750.1" cy="282.9" r="1.21" fill="#c8a0d0" opacity="0.85"/>
<circle cx="746.5" cy="278.9" r="1.11" fill="#88b088" opacity="0.85"/>
<g transform="rotate(25.5)">
<path d="M183,-23.8 L303,-23.8 L303,33.4 L183,33.4 A12.5,28.6 0 0 1 183,-23.8 Z" fill="url(#jg)"/>
<ellipse cx="303" cy="4.8" rx="14" ry="28.6" fill="#d8d4b4"/>
<ellipse cx="304" cy="5" rx="12.5" ry="26" fill="#e8e6d6"/>
<path d="M302,-18 L313,-18 L313,28 L302,28 Z" fill="#ecea12"/>
<ellipse cx="302" cy="5" rx="13" ry="23" fill="#f0ee16"/>
<ellipse cx="313" cy="5" rx="10.5" ry="23" fill="#f2f01c"/>
<path d="M320,-14.5 L376,-11.5 L381,-4 L381,19 L376,25 L324,28.5 Q314,22 314,6 Q315,-10 320,-14.5 Z" fill="#4a1a3c"/>
<rect x="330" y="-14.5" width="49" height="6" rx="1.2" fill="#963a70" stroke="#2a1020" stroke-width="0.5"/>
<ellipse cx="377.5" cy="-11.5" rx="1.6" ry="2.4" fill="#3a1030"/>
<rect x="336" y="-8" width="38" height="6" rx="1.2" fill="#8a3468" stroke="#2a1020" stroke-width="0.5"/>
<ellipse cx="372.5" cy="-5" rx="1.6" ry="2.4" fill="#3a1030"/>
<rect x="336" y="-1.5" width="30" height="6" rx="1.2" fill="#a0603a" stroke="#2a1020" stroke-width="0.5"/>
<ellipse cx="364.5" cy="1.5" rx="1.6" ry="2.4" fill="#3a1030"/>
<rect x="334" y="5" width="30" height="6" rx="1.2" fill="#3a8a4a" stroke="#2a1020" stroke-width="0.5"/>
<ellipse cx="362.5" cy="8" rx="1.6" ry="2.4" fill="#3a1030"/>
<rect x="334" y="11" width="36" height="6" rx="1.2" fill="#8a3468" stroke="#2a1020" stroke-width="0.5"/>
<ellipse cx="368.5" cy="14" rx="1.6" ry="2.4" fill="#3a1030"/>
<rect x="332" y="17" width="34" height="6" rx="1.2" fill="#a05a30" stroke="#2a1020" stroke-width="0.5"/>
<ellipse cx="364.5" cy="20" rx="1.6" ry="2.4" fill="#3a1030"/>
<rect x="330" y="22" width="38" height="6" rx="1.2" fill="#8a3468" stroke="#2a1020" stroke-width="0.5"/>
<ellipse cx="366.5" cy="25" rx="1.6" ry="2.4" fill="#3a1030"/>
<rect x="320" y="-14" width="14" height="4.4" rx="1.5" fill="#8c3468" stroke="#3a1a30" stroke-width="0.45"/>
<rect x="318" y="-9.8" width="28" height="7.800000000000001" rx="1.5" fill="#2a2ad0" stroke="#3a1a30" stroke-width="0.45"/>
<rect x="316" y="-2" width="26" height="8" rx="1.5" fill="#34b8e0" stroke="#3a1a30" stroke-width="0.45"/>
<rect x="315" y="6" width="21" height="8.5" rx="1.5" fill="#d070b2" stroke="#3a1a30" stroke-width="0.45"/>
<rect x="315" y="14.5" width="17" height="8.0" rx="1.5" fill="#9a46a6" stroke="#3a1a30" stroke-width="0.45"/>
<rect x="316" y="22.5" width="13" height="5.5" rx="1.5" fill="#bdb446" stroke="#3a1a30" stroke-width="0.45"/>
<path d="M360,-4.5 L395,-4.5 L395,22 L360,22 Z" fill="url(#bg)"/>
<ellipse cx="395" cy="9" rx="6.5" ry="13" fill="#707070"/>
<ellipse cx="395.5" cy="9" rx="4.8" ry="10.5" fill="#505050"/>
<path d="M395,4.5 L420,4.5 L420,12 L395,12 Z" fill="url(#rg)"/>
<ellipse cx="420" cy="8.25" rx="2.2" ry="3.75" fill="#d8d8d8"/>
</g>
<path d="M246.7,186.6 L256.2,186.6 L256.2,115.8" fill="none" stroke="#6e6e8a" stroke-width="1.1"/>
<path d="M246.7,207.2 L276.4,207.2 L276.4,131.9" fill="none" stroke="#6e6e8a" stroke-width="1.1"/>
<path d="M246.7,229.3 L296.3,229.3 L296.3,145.2" fill="none" stroke="#6e6e8a" stroke-width="1.1"/>
<path d="M248.7,251.2 L317.9,251.2 L317.9,160.1" fill="none" stroke="#6e6e8a" stroke-width="1.1"/>
<path d="M248.7,268.8 L337.2,268.8 L337.2,169.8" fill="none" stroke="#6e6e8a" stroke-width="1.1"/>
<path d="M138,188 L62.3,188 L62.3,350" fill="none" stroke="#6e6e8a" stroke-width="1.1"/>
<path d="M138,206.8 L73.6,206.8 L73.6,350" fill="none" stroke="#6e6e8a" stroke-width="1.1"/>
<path d="M138,228 L88.5,228 L88.5,350" fill="none" stroke="#6e6e8a" stroke-width="1.1"/>
<path d="M138,248.3 L104.2,248.3 L104.2,314" fill="none" stroke="#6e6e8a" stroke-width="1.1"/>
<path d="M138,268.3 L124.7,268.3 L124.7,349.8" fill="none" stroke="#6e6e8a" stroke-width="1.1"/>
<circle cx="62.3" cy="350" r="2.0" fill="#4a4a90"/>
<circle cx="73.6" cy="350" r="2.0" fill="#4a4a90"/>
<circle cx="88.5" cy="350" r="2.0" fill="#4a4a90"/>
<circle cx="104.2" cy="314" r="2.0" fill="#4a4a90"/>
<circle cx="124.7" cy="349.8" r="2.0" fill="#4a4a90"/>
<circle cx="256.2" cy="115.8" r="3.9" fill="url(#dg)" stroke="#28284a" stroke-width="0.7"/>
<circle cx="276.4" cy="131.7" r="3.9" fill="url(#dg)" stroke="#28284a" stroke-width="0.7"/>
<circle cx="296.2" cy="145.2" r="3.9" fill="url(#dg)" stroke="#28284a" stroke-width="0.7"/>
<circle cx="318" cy="160.1" r="3.9" fill="url(#dg)" stroke="#28284a" stroke-width="0.7"/>
<circle cx="337.3" cy="169.8" r="3.9" fill="url(#dg)" stroke="#28284a" stroke-width="0.7"/>
<text class="t" x="146.9" y="191.2" font-size="11.8" text-anchor="start" textLength="76.2" lengthAdjust="spacingAndGlyphs">Оболочка LSZH</text>
<text class="t" x="146.9" y="209.9" font-size="11.8" text-anchor="start" textLength="96.1" lengthAdjust="spacingAndGlyphs">Упрочняющие нити</text>
<text class="t" x="144.9" y="232.2" font-size="11.8" text-anchor="start" textLength="89.4" lengthAdjust="spacingAndGlyphs">Свободная трубка</text>
<text class="t" x="141.9" y="252.8" font-size="11.8" text-anchor="start" textLength="102.3" lengthAdjust="spacingAndGlyphs">Оптическое волокно</text>
<text class="t" x="145.4" y="272.6" font-size="11.8" text-anchor="start" textLength="85.2" lengthAdjust="spacingAndGlyphs">Силовой элемент</text>
<text class="t" x="484.2" y="210.0" font-size="11.6" text-anchor="start" textLength="40.3" lengthAdjust="spacingAndGlyphs">6x2 (12)</text>
<text class="t" x="669.4" y="210.2" font-size="11.6" text-anchor="start" textLength="40.2" lengthAdjust="spacingAndGlyphs">6x4 (24)</text>
<text class="t" x="398.7" y="412.2" font-size="11.6" text-anchor="start" textLength="39.9" lengthAdjust="spacingAndGlyphs">8x6 (48)</text>
<text class="t" x="564.6" y="414.0" font-size="11.6" text-anchor="start" textLength="46.2" lengthAdjust="spacingAndGlyphs">8x12 (96)</text>
<text class="t" x="740.8" y="413.9" font-size="11.6" text-anchor="start" textLength="56.9" lengthAdjust="spacingAndGlyphs">12x12 (144)</text>
</svg></body></html>
